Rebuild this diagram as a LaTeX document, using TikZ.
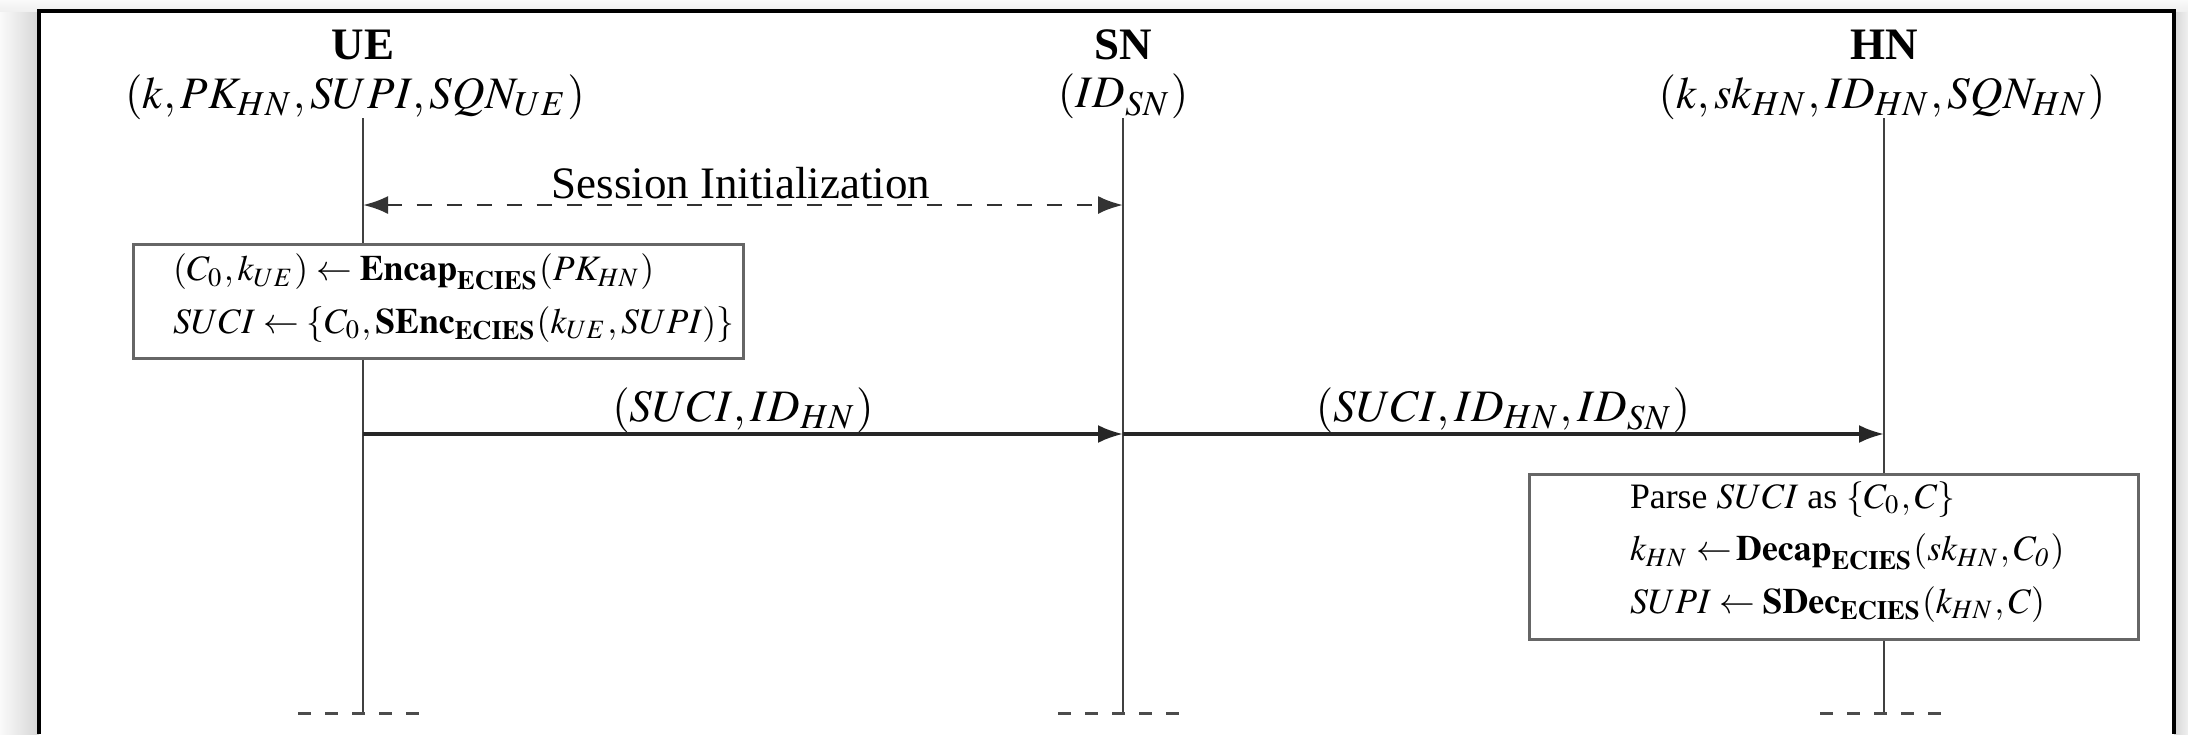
\documentclass[tikz,border=0pt]{standalone}
\usepackage{mathptmx}
\usepackage[no-math]{fontspec}
\setmainfont{Liberation Serif}
\usetikzlibrary{arrows.meta}
\tikzset{
  lifeline/.style={draw=black!75, line width=0.45pt},
  msg/.style={draw=black!85, line width=0.65pt, -{Latex[length=5pt,width=3.6pt]}},
  sessarrow/.style={draw=black!80, line width=0.55pt, dash pattern=on 3pt off 3pt, {Latex[length=5pt,width=3.6pt]}-{Latex[length=5pt,width=3.6pt]}},
  actor/.style={font=\bfseries\fontsize{9}{11}\selectfont, inner sep=0pt},
  state/.style={font=\fontsize{9}{11}\selectfont, inner sep=0pt},
  lbl/.style={font=\fontsize{9}{11}\selectfont, inner sep=0pt},
  procbox/.style={draw=black!60, line width=0.55pt, fill=white, inner sep=0pt},
  proctext/.style={font=\fontsize{7.15}{10.5}\selectfont, inner sep=0pt, align=left},
  endmark/.style={draw=black!70, line width=0.6pt, dash pattern=on 2.6pt off 2.8pt},
}
\begin{document}
\begin{tikzpicture}[x=0.2pt, y=-0.2pt]
\useasboundingbox (0,0) rectangle (2188,734);
% window shadow background
\fill[gray!7] (0,0) rectangle (2188,734);
\shade[left color=gray!4, right color=gray!32] (0,11) rectangle (39,734);
\shade[left color=gray!32, right color=gray!12] (2174,11) rectangle (2188,734);
\shade[top color=gray!4, bottom color=gray!12] (0,0) rectangle (2188,11);
\fill[white] (39,11) rectangle (2174,734);
\draw[line width=0.75pt, black] (39,734) -- (39,11) -- (2174,11) -- (2174,734);

% actors
\node[actor] (ueT) at (363,45) {UE};
\node[state] (ueS) at (355,97) {$(k,PK_{HN},SUPI,SQN_{UE})$};
\node[actor] (snT) at (1123,45) {SN};
\node[state] (snS) at (1123,96) {$(ID_{SN})$};
\node[actor] (hnT) at (1884,45) {HN};
\node[state] (hnS) at (1882,97) {$(k,sk_{HN},ID_{HN},SQN_{HN})$};

% lifeline coordinates
\coordinate (ueTop) at (363,118);
\coordinate (ueBot) at (363,713);
\coordinate (snTop) at (1123,118);
\coordinate (snBot) at (1123,713);
\coordinate (hnTop) at (1884,118);
\coordinate (hnBot) at (1884,713);
\draw[lifeline] (ueTop) -- (ueBot);
\draw[lifeline] (snTop) -- (snBot);
\draw[lifeline] (hnTop) -- (hnBot);

% end marks
\coordinate (ueE1) at (298,713); \coordinate (ueE2) at (420,713);
\coordinate (snE1) at (1058,713); \coordinate (snE2) at (1181,713);
\coordinate (hnE1) at (1820,713); \coordinate (hnE2) at (1943,713);
\draw[endmark] (ueE1) -- (ueE2);
\draw[endmark] (snE1) -- (snE2);
\draw[endmark] (hnE1) -- (hnE2);

% session initialization
\coordinate (ueSI) at (363,205);
\coordinate (snSI) at (1123,205);
\draw[sessarrow] (ueSI) -- (snSI);
\node[lbl] (siL) at (741,183) {Session Initialization};

% UE box
\node[procbox, anchor=north west, minimum width=122pt, minimum height=22.8pt] (ueBox) at (132,243) {};
\node[proctext, anchor=west] (ueTxt) at (172,298) {$(C_0,k_{UE}) \leftarrow \mathbf{Encap}_{\mathbf{ECIES}}(PK_{HN})$\\$SUCI \leftarrow \{C_0,\mathbf{SEnc}_{\mathbf{ECIES}}(k_{UE},SUPI)\}$};

% messages
\coordinate (ueM) at (363,434);
\coordinate (snM) at (1123,434);
\coordinate (hnM) at (1884,434);
\draw[msg] (ueM) -- (snM);
\draw[msg] (snM) -- (hnM);
\node[lbl] (m1L) at (743,410) {$(SUCI,ID_{HN})$};
\node[lbl] (m2L) at (1503,410) {$(SUCI,ID_{HN},ID_{SN})$};

% HN box
\node[procbox, anchor=north west, minimum width=121.8pt, minimum height=33pt] (hnBox) at (1528,473) {};
\node[proctext, anchor=west] (hnTxt) at (1629,552) {Parse $SUCI$ as $\{C_0,C\}$\\$k_{HN} \leftarrow\!\mathbf{Decap}_{\mathbf{ECIES}}(sk_{HN},C_{\mathit{0}})$\\$SUPI \leftarrow \mathbf{SDec}_{\mathbf{ECIES}}(k_{HN},C)$};
\end{tikzpicture}
\end{document}
